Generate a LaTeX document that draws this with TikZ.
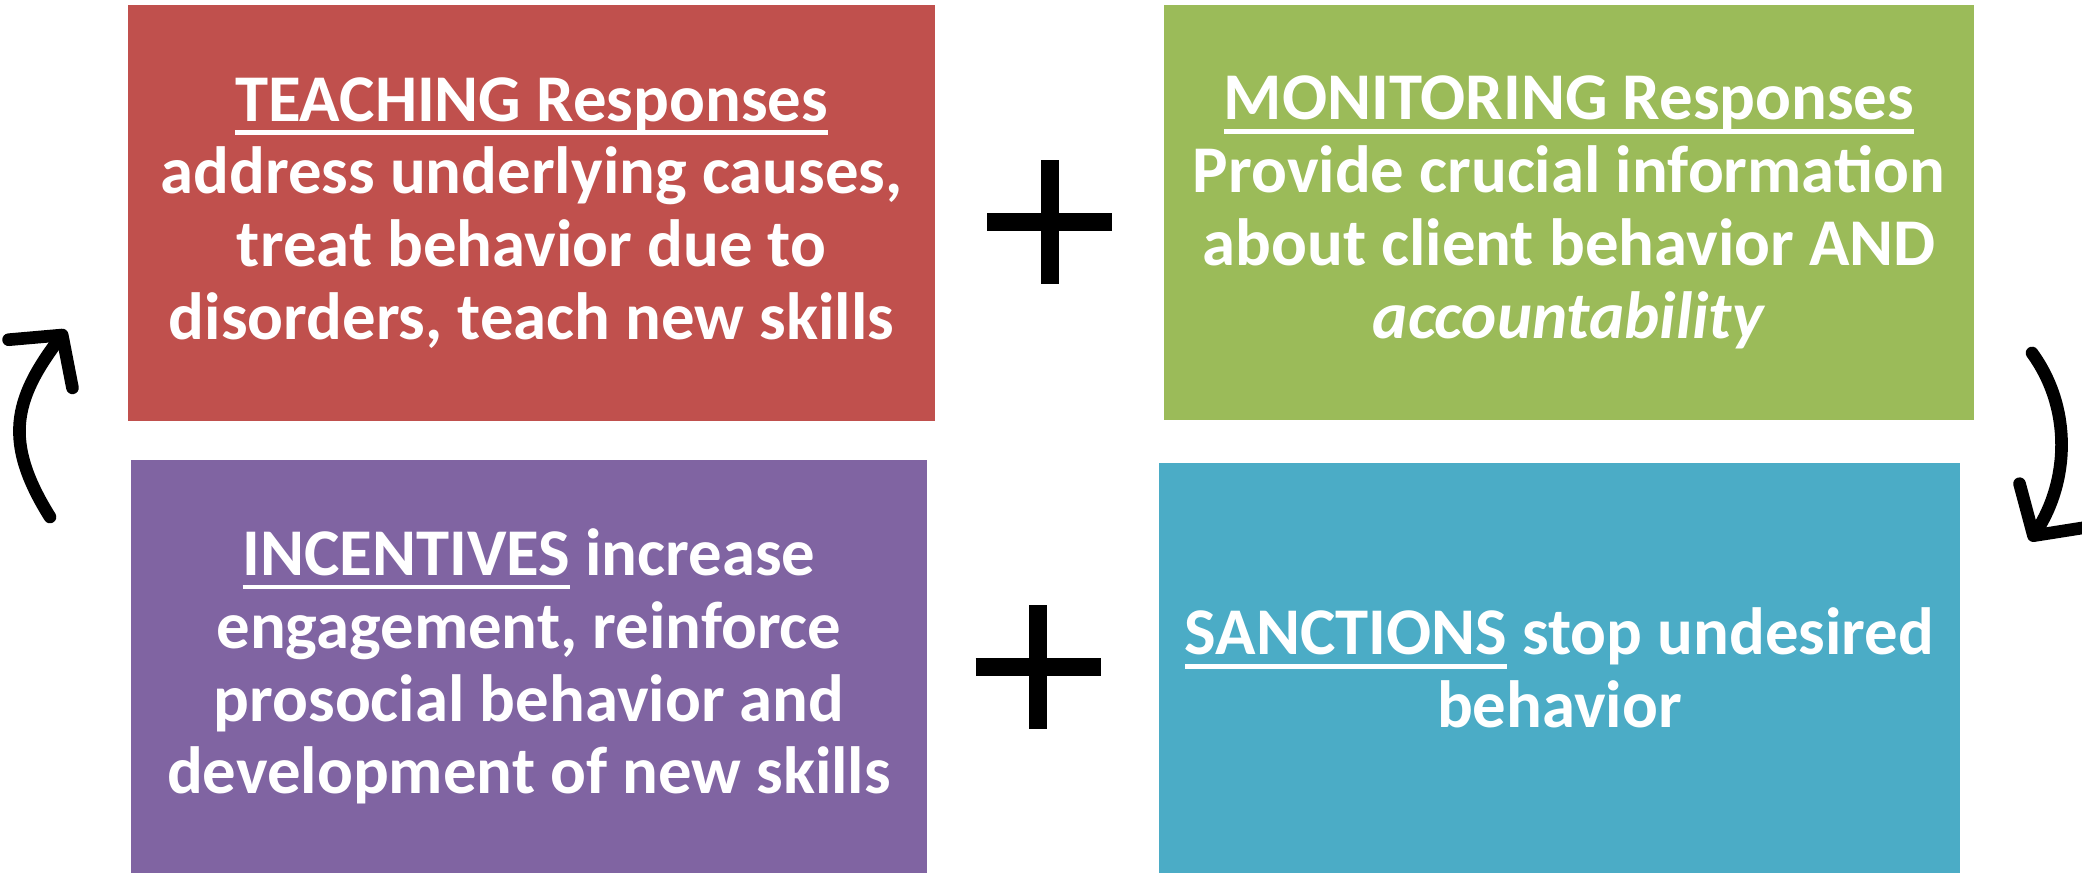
\documentclass[tikz,border=0pt]{standalone}
\usepackage{fontspec}
\setmainfont{Carlito}
\usetikzlibrary{arrows.meta}

\definecolor{teachred}{HTML}{C0504D}
\definecolor{monitorgreen}{HTML}{9BBB59}
\definecolor{incentpurple}{HTML}{8064A2}
\definecolor{sanctteal}{HTML}{4BACC6}

% underline drawn as a rule below the baseline
\newsavebox{\ulbox}
\newcommand{\ulword}[1]{\sbox{\ulbox}{#1}\rlap{\usebox{\ulbox}}\rule[-3.9pt]{\wd\ulbox}{1.3pt}}

\begin{document}
\begin{tikzpicture}[
    panel/.style={inner sep=0pt, align=center, text=white,
      font=\bfseries\fontsize{19}{20.7}\selectfont},
    plusbar/.style={line width=0.18cm},
    cyclearrow/.style={line width=3.6pt, line cap=round,
      -{Straight Barb[length=3.6mm,width=8mm,round]}}
  ]
  \useasboundingbox (0,0) rectangle (20.82,8.73);

  % Response boxes
  \node[panel, fill=teachred, minimum width=8.07cm, minimum height=4.16cm] (teach) at (5.315,6.60)
    {\ulword{TEACHING Responses}\\ address underlying causes,\\ treat behavior due to\\ disorders, teach new skills};
  \node[panel, fill=monitorgreen, minimum width=8.10cm, minimum height=4.15cm] (monitor) at (15.69,6.605)
    {\ulword{MONITORING Responses}\\ Provide crucial information\\ about client behavior AND\\ \textit{accountability}};
  \node[panel, fill=incentpurple, minimum width=7.96cm, minimum height=4.13cm] (incent) at (5.29,2.065)
    {\ulword{INCENTIVES} increase\\ engagement, reinforce\\ prosocial behavior and\\ development of new skills};
  \node[panel, fill=sanctteal, minimum width=8.01cm, minimum height=4.10cm] (sanct) at (15.595,2.05)
    {\ulword{SANCTIONS} stop undesired\\ behavior};

  % Plus signs
  \coordinate (plustop) at (10.495,6.51);
  \coordinate (plusbot) at (10.38,2.06);
  \foreach \p in {plustop,plusbot} {
    \draw[plusbar] ([xshift=-0.625cm]\p) -- ([xshift=0.625cm]\p);
    \draw[plusbar] ([yshift=-0.62cm]\p) -- ([yshift=0.62cm]\p);
  }

  % Cycle arrows
  \coordinate (ltail) at (0.50,3.56);
  \coordinate (lhead) at (0.66,5.43);
  \draw[cyclearrow] (ltail) to[out=122, in=233, looseness=1.2] (lhead);
  \coordinate (rtail) at (20.32,5.20);
  \coordinate (rhead) at (20.30,3.32);
  \draw[cyclearrow] (rtail) to[out=-54, in=57, looseness=0.95] (rhead);
\end{tikzpicture}
\end{document}
